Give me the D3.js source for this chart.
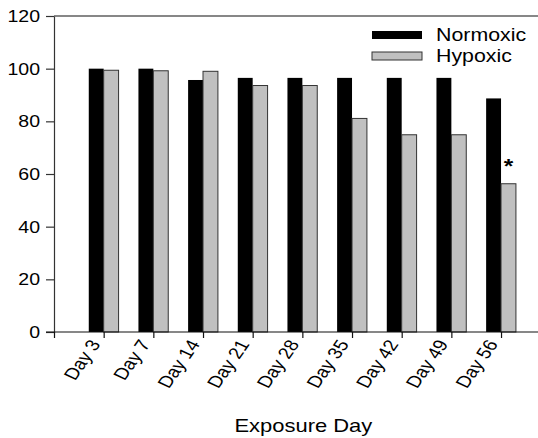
<!DOCTYPE html>
<html><head><meta charset="utf-8">
<script src="https://cdn.jsdelivr.net/npm/d3@7"></script>
<style>html,body{margin:0;padding:0;background:#fff;} text{font-family:"Liberation Sans",Arial,sans-serif;fill:#000;}</style>
</head><body>
<svg id="chart" width="538" height="438"></svg>
<script>
const days = ["Day 3","Day 7","Day 14","Day 21","Day 28","Day 35","Day 42","Day 49","Day 56"];
const normoxic = [100, 100, 95.7, 96.5, 96.5, 96.5, 96.5, 96.5, 88.7];
const hypoxic = [99.4, 99.2, 99.0, 93.6, 93.6, 81.1, 74.9, 74.9, 56.3];
const yTicks = [0, 20, 40, 60, 80, 100, 120];
const seriesNames = ["Normoxic", "Hypoxic"];
const significant = [false, false, false, false, false, false, false, false, true];

const SX = 1.22; // horizontal stretch of text in the reference
const svg = d3.select("#chart");
const mLeft = 54, mTop = 16, mBottom = 332;
const x = d3.scaleLinear().domain([0, days.length + 1]).range([mLeft, mLeft + 49.67 * (days.length + 1)]);
const y = d3.scaleLinear().domain([0, 120]).range([mBottom, mTop]);
const step = x(1) - x(0);
const bw = step * 0.3;
const colors = ["#000000", "#c0c0c0"];

// frame top line
svg.append("line").attr("x1", x(0)).attr("x2", x(days.length + 1)).attr("y1", y(120)).attr("y2", y(120))
  .attr("stroke", "#111").attr("stroke-width", 1.2);

// bars
const g = svg.append("g");
days.forEach((d, i) => {
  const cx = x(i + 1);
  g.append("rect").attr("x", cx - bw).attr("width", bw).attr("y", y(normoxic[i])).attr("height", y(0) - y(normoxic[i]))
    .attr("fill", colors[0]);
  g.append("rect").attr("x", cx).attr("width", bw).attr("y", y(hypoxic[i])).attr("height", y(0) - y(hypoxic[i]))
    .attr("fill", colors[1]).attr("stroke", "#333").attr("stroke-width", 1);
  if (significant[i]) {
    g.append("text").attr("transform", `translate(${cx + bw / 2},${y(hypoxic[i]) - 11}) scale(${SX},1)`)
      .attr("text-anchor", "middle").attr("font-size", 20).attr("font-weight", "bold").text("*");
  }
});

// y axis
const yAxis = svg.append("g").attr("transform", `translate(${mLeft},0)`)
  .call(d3.axisLeft(y).tickValues(yTicks).tickSize(8).tickSizeOuter(0));
yAxis.select(".domain").attr("stroke", "#333").attr("stroke-width", 1.2);
yAxis.selectAll(".tick line").attr("stroke", "#333").attr("stroke-width", 1.2);
yAxis.selectAll(".tick text").attr("font-size", 16).attr("x", null).attr("dy", null)
  .attr("font-family", "Liberation Sans, Arial, sans-serif")
  .attr("text-anchor", "end")
  .attr("transform", `translate(-14,5.5) scale(${SX},1)`);

// x axis
const xt = d3.range(0, days.length + 1);
const xAxis = svg.append("g").attr("transform", `translate(0,${mBottom})`)
  .call(d3.axisBottom(x).tickValues(xt).tickSize(6).tickSizeOuter(0).tickFormat(i => i ? days[i - 1] : ""));
xAxis.select(".domain").attr("stroke", "#111").attr("stroke-width", 1.2).attr("d", `M${mLeft - 8},0H${x(days.length + 1)}`);
xAxis.selectAll(".tick line").attr("stroke", "#111").attr("stroke-width", 1.2);
xAxis.selectAll(".tick text").attr("font-size", 16.5).attr("y", null).attr("dy", null)
  .attr("font-family", "Liberation Sans, Arial, sans-serif")
  .attr("text-anchor", "end")
  .attr("transform", `translate(-3,12) scale(${SX},1) rotate(-60)`);

// axis title
svg.append("text").attr("transform", `translate(${x(5) + 1},432) scale(${SX},1)`)
  .attr("text-anchor", "middle").attr("font-size", 18).text("Exposure Day");

// legend
const lg = svg.append("g");
seriesNames.forEach((n, i) => {
  const yy = 31 + i * 21;
  lg.append("rect").attr("x", 372).attr("y", yy).attr("width", 50).attr("height", 8)
    .attr("fill", colors[i]).attr("stroke", i ? "#333" : "none");
  lg.append("text").attr("transform", `translate(436,${yy + 10}) scale(${SX},1)`)
    .attr("font-size", 17.5).text(n);
});
</script>
</body></html>
